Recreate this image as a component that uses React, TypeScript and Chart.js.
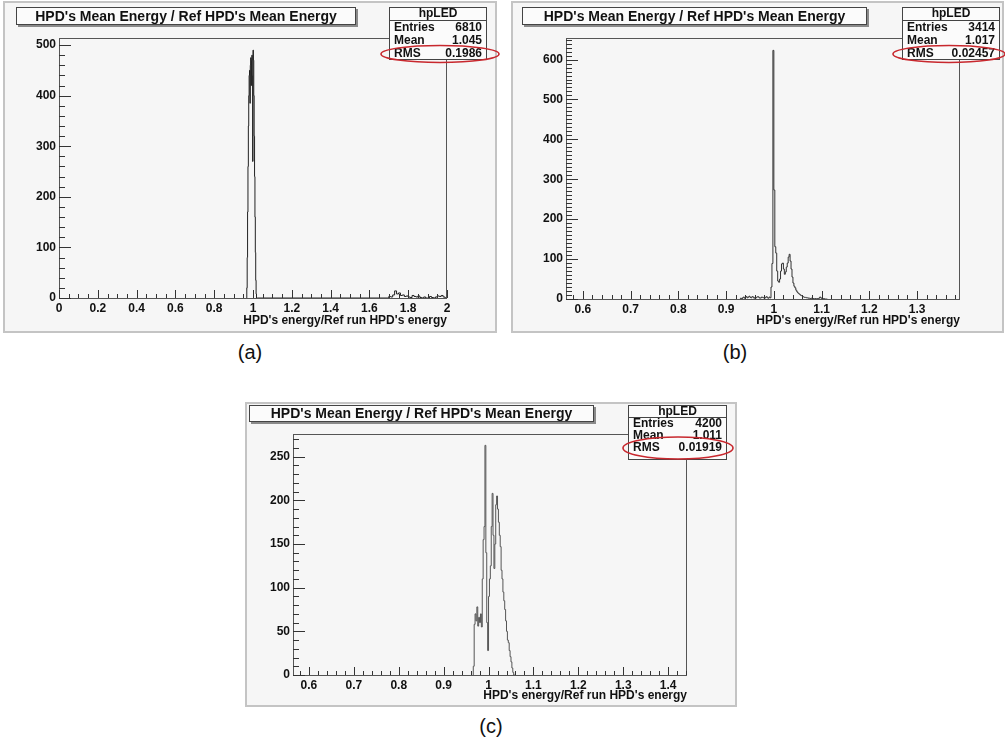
import React, { useEffect, useRef } from "react";
import { Chart, registerables } from "chart.js";
Chart.register(...registerables);

const FONT = "'Liberation Sans', Arial, Helvetica, sans-serif";

// ---------------- DATA ----------------
const chartTitle = "HPD's Mean Energy / Ref HPD's Mean Energy";
const xAxisTitle = "HPD's energy/Ref run HPD's energy";
const statsName = "hpLED";
const statsLabels = ["Entries", "Mean", "RMS"];

// Panel (a)
const binStartA1 = 0.968;
const binWidthA1 = 0.002;
const countsA1 = [0, 20, 80, 170, 260, 340, 400, 440, 450, 385, 460, 475, 420, 470, 480, 440, 270, 490, 470, 400, 320, 240, 160, 90, 35, 8, 0];
const binStartA2 = 1.7;
const binWidthA2 = 0.01;
const countsA2 = [0, 3, 2, 6, 14, 8, 10, 5, 6, 3, 4, 2, 1, 5, 3, 2, 4, 1, 0, 2, 0, 0, 3, 1, 0, 2, 4, 3, 5, 2];
const xTicksA = [0, 0.2, 0.4, 0.6, 0.8, 1, 1.2, 1.4, 1.6, 1.8, 2];
const yTicksA = [0, 100, 200, 300, 400, 500];
const statsValuesA = ["6810", "1.045", "0.1986"];

// Panel (b)
const binStartB = 0.93;
const binWidthB = 0.002;
const countsB = [
  0, 2, 0, 3, 5, 2, 4, 6, 3, 5, 7, 4, 3, 6, 5, 2, 4, 3, 5, 6, 4, 2, 3, 5, 4, 3, 2, 4, 6, 3, 2, 5, 3,
  30, 89, 623, 273, 131, 115, 70, 45, 42, 50, 70, 88, 90, 75, 62, 68, 80, 90, 105, 112, 95, 75, 55, 40,
  32, 28, 22, 18, 15, 13, 11, 9, 8, 6, 5, 4, 4, 3, 3, 2, 2, 1, 2, 1, 1, 0, 1, 0, 1, 0, 2, 5, 3, 1, 0, 1, 0, 0,
];
const xTicksB = [0.6, 0.7, 0.8, 0.9, 1, 1.1, 1.2, 1.3];
const yTicksB = [0, 100, 200, 300, 400, 500, 600];
const statsValuesB = ["3414", "1.017", "0.02457"];

// Panel (c)
const binStartC = 0.966;
const binWidthC = 0.002;
const countsC = [
  0, 10, 58, 70, 62, 78, 56, 66, 60, 70, 55, 110, 155, 170, 263, 140, 60, 28, 90, 110, 125, 170, 208,
  160, 122, 150, 195, 205, 190, 175, 160, 147, 120, 110, 95, 85, 75, 62, 50, 40, 37, 28, 21, 15, 8, 3, 0,
];
const xTicksC = [0.6, 0.7, 0.8, 0.9, 1, 1.1, 1.2, 1.3, 1.4];
const yTicksC = [0, 50, 100, 150, 200, 250];
const statsValuesC = ["4200", "1.011", "0.01919"];

// ---------------- LAYOUT ----------------
type Box = { l: number; t: number; r: number; b: number };
type Segment = { start: number; width: number; counts: number[] };
interface PanelDef {
  pad: Box;
  frame: Box;
  titleBox: Box;
  statsBox: Box;
  statsDivider: number;
  statsRows: number[];
  ellipse: { cx: number; cy: number; rx: number; ry: number };
  axisTitleY: number;
  xMin: number;
  xMax: number;
  yMax: number;
  xTicks: number[];
  yTicks: number[];
  xMinor: number;
  yMinor: number;
  stats: string[];
  segments: Segment[];
  lineColor: string;
}

const panels: PanelDef[] = [
  {
    pad: { l: 3, t: 1, r: 497, b: 333 },
    frame: { l: 59, t: 38, r: 447, b: 298 },
    titleBox: { l: 16, t: 7, r: 356, b: 25 },
    statsBox: { l: 389, t: 7, r: 487, b: 60 },
    statsDivider: 12.5,
    statsRows: [21, 33.7, 46.5],
    ellipse: { cx: 440, cy: 54, rx: 59, ry: 8.5 },
    axisTitleY: 320.5,
    xMin: 0,
    xMax: 2,
    yMax: 514,
    xTicks: xTicksA,
    yTicks: yTicksA,
    xMinor: 0.05,
    yMinor: 20,
    stats: statsValuesA,
    segments: [
      { start: binStartA1, width: binWidthA1, counts: countsA1 },
      { start: binStartA2, width: binWidthA2, counts: countsA2 },
    ],
    lineColor: "#222",
  },
  {
    pad: { l: 511, t: 1, r: 1004, b: 333 },
    frame: { l: 566, t: 38, r: 960, b: 299 },
    titleBox: { l: 522, t: 7, r: 867, b: 25 },
    statsBox: { l: 902, t: 7, r: 1000, b: 60 },
    statsDivider: 12.5,
    statsRows: [21, 33.7, 46.5],
    ellipse: { cx: 949, cy: 54, rx: 56, ry: 8.5 },
    axisTitleY: 320.5,
    xMin: 0.5645,
    xMax: 1.39,
    yMax: 654,
    xTicks: xTicksB,
    yTicks: yTicksB,
    xMinor: 0.02,
    yMinor: 10,
    stats: statsValuesB,
    segments: [{ start: binStartB, width: binWidthB, counts: countsB }],
    lineColor: "#333",
  },
  {
    pad: { l: 245, t: 402, r: 737, b: 707 },
    frame: { l: 293, t: 434, r: 687, b: 675 },
    titleBox: { l: 249, t: 405, r: 594, b: 422 },
    statsBox: { l: 628, t: 405, r: 727, b: 460 },
    statsDivider: 11.7,
    statsRows: [18.5, 30.7, 42.7],
    ellipse: { cx: 678, cy: 448, rx: 55, ry: 11 },
    axisTitleY: 696,
    xMin: 0.5645,
    xMax: 1.442,
    yMax: 276,
    xTicks: xTicksC,
    yTicks: yTicksC,
    xMinor: 0.02,
    yMinor: 10,
    stats: statsValuesC,
    segments: [{ start: binStartC, width: binWidthC, counts: countsC }],
    lineColor: "#555",
  },
];

const panelLabels = [
  { text: "(a)", x: 250, y: 352 },
  { text: "(b)", x: 735, y: 352 },
  { text: "(c)", x: 491, y: 726 },
];

const M = 6; // canvas margin around pad
const Y_W = 45;

function histPoints(segments: Segment[]) {
  const pts: { x: number; y: number }[] = [];
  segments.forEach((s) => {
    s.counts.forEach((c, i) => pts.push({ x: s.start + i * s.width, y: c }));
    pts.push({ x: s.start + s.counts.length * s.width, y: 0 });
  });
  return pts;
}

const fmt = (v: number) => String(Math.round(v * 10) / 10);

function Panel({ def }: { def: PanelDef }) {
  const ref = useRef<HTMLCanvasElement>(null);
  const ox = def.pad.l - M;
  const oy = def.pad.t - M;
  const W = def.pad.r - def.pad.l + 2 * M;
  const H = def.pad.b - def.pad.t + 2 * M;

  useEffect(() => {
    const tickFont = { family: FONT, size: 12, weight: "bold" as const };
    const titleLH = 12 * 1.2;
    const X_H = def.axisTitleY - def.frame.b + titleLH / 2;
    const loc = (b: Box) => ({ l: b.l - ox, t: b.t - oy, r: b.r - ox, b: b.b - oy });

    const rootPlugin = {
      id: "rootStyle",
      beforeDraw(chart: any) {
        const ctx = chart.ctx as CanvasRenderingContext2D;
        const p = loc(def.pad);
        ctx.save();
        ctx.fillStyle = "#f6f6f6";
        ctx.fillRect(p.l, p.t, p.r - p.l, p.b - p.t);
        ctx.strokeStyle = "#c4c4c4";
        ctx.lineWidth = 2;
        ctx.strokeRect(p.l + 1, p.t + 1, p.r - p.l - 2, p.b - p.t - 2);
        ctx.restore();
      },
      afterDatasetsDraw(chart: any) {
        const ctx = chart.ctx as CanvasRenderingContext2D;
        const a = chart.chartArea;
        const xs = chart.scales.x;
        const ys = chart.scales.y;
        ctx.save();
        ctx.strokeStyle = "#555";
        ctx.lineWidth = 1;
        ctx.strokeRect(a.left + 0.5, a.top + 0.5, a.right - a.left - 1, a.bottom - a.top);
        ctx.strokeStyle = "#333";
        ctx.beginPath();
        const isMajor = (v: number, arr: number[], eps: number) => arr.some((m) => Math.abs(m - v) < eps);
        for (let v = Math.ceil(def.xMin / def.xMinor) * def.xMinor; v <= def.xMax + 1e-9; v += def.xMinor) {
          if (isMajor(v, def.xTicks, def.xMinor / 10)) continue;
          const px = Math.round(xs.getPixelForValue(v)) + 0.5;
          ctx.moveTo(px, a.bottom);
          ctx.lineTo(px, a.bottom - 4);
        }
        def.xTicks.forEach((v) => {
          const px = Math.round(xs.getPixelForValue(v)) + 0.5;
          ctx.moveTo(px, a.bottom);
          ctx.lineTo(px, a.bottom - 8);
        });
        for (let v = def.yMinor; v <= def.yMax + 1e-9; v += def.yMinor) {
          if (isMajor(v, def.yTicks, def.yMinor / 10)) continue;
          const py = Math.round(ys.getPixelForValue(v)) + 0.5;
          ctx.moveTo(a.left, py);
          ctx.lineTo(a.left + 6, py);
        }
        def.yTicks.forEach((v) => {
          const py = Math.round(ys.getPixelForValue(v)) + 0.5;
          ctx.moveTo(a.left, py);
          ctx.lineTo(a.left + 12, py);
        });
        ctx.stroke();
        ctx.restore();
      },
      afterDraw(chart: any) {
        const ctx = chart.ctx as CanvasRenderingContext2D;
        ctx.save();
        const tb = loc(def.titleBox);
        ctx.fillStyle = "#8a8a8a";
        ctx.fillRect(tb.l + 2, tb.t + 2, tb.r - tb.l, tb.b - tb.t);
        ctx.fillStyle = "#fbfbfb";
        ctx.fillRect(tb.l, tb.t, tb.r - tb.l, tb.b - tb.t);
        ctx.strokeStyle = "#444";
        ctx.lineWidth = 1;
        ctx.strokeRect(tb.l + 0.5, tb.t + 0.5, tb.r - tb.l - 1, tb.b - tb.t - 1);
        ctx.fillStyle = "#111";
        ctx.font = `bold 14px ${FONT}`;
        ctx.textAlign = "center";
        ctx.textBaseline = "middle";
        ctx.fillText(chartTitle, (tb.l + tb.r) / 2, (tb.t + tb.b) / 2 + 1);
        const sb = loc(def.statsBox);
        ctx.fillStyle = "#fbfbfb";
        ctx.fillRect(sb.l, sb.t, sb.r - sb.l, sb.b - sb.t);
        ctx.strokeStyle = "#444";
        ctx.strokeRect(sb.l + 0.5, sb.t + 0.5, sb.r - sb.l - 1, sb.b - sb.t - 1);
        ctx.beginPath();
        ctx.moveTo(sb.l, Math.round(sb.t + def.statsDivider) + 0.5);
        ctx.lineTo(sb.r, Math.round(sb.t + def.statsDivider) + 0.5);
        ctx.stroke();
        ctx.fillStyle = "#111";
        ctx.font = `bold 12px ${FONT}`;
        ctx.textAlign = "center";
        ctx.fillText(statsName, (sb.l + sb.r) / 2, sb.t + def.statsDivider / 2 + 0.5);
        statsLabels.forEach((lab, i) => {
          const y = sb.t + def.statsRows[i];
          ctx.textAlign = "left";
          ctx.fillText(lab, sb.l + 5, y);
          ctx.textAlign = "right";
          ctx.fillText(def.stats[i], sb.r - 5, y);
        });
        ctx.strokeStyle = "#c8282e";
        ctx.lineWidth = 1.6;
        ctx.beginPath();
        ctx.ellipse(def.ellipse.cx - ox, def.ellipse.cy - oy, def.ellipse.rx, def.ellipse.ry, 0, 0, Math.PI * 2);
        ctx.stroke();
        ctx.restore();
      },
    };

    const chart = new Chart(ref.current!, {
      type: "line",
      data: {
        datasets: [
          {
            data: histPoints(def.segments),
            stepped: "after",
            borderColor: def.lineColor,
            borderWidth: 1,
            pointRadius: 0,
            fill: false,
          } as any,
        ],
      },
      options: {
        animation: false,
        responsive: false,
        maintainAspectRatio: false,
        events: [],
        layout: {
          padding: {
            left: def.frame.l - ox - Y_W,
            top: def.frame.t - oy,
            right: ox + W - def.frame.r,
            bottom: oy + H - def.frame.b - X_H,
          },
        },
        plugins: { legend: { display: false }, tooltip: { enabled: false }, title: { display: false } },
        scales: {
          x: {
            type: "linear",
            min: def.xMin,
            max: def.xMax,
            afterBuildTicks: (s: any) => {
              s.ticks = def.xTicks.map((v) => ({ value: v }));
            },
            afterFit: (s: any) => {
              s.height = X_H;
            },
            grid: { display: false, drawTicks: false },
            border: { display: false },
            ticks: {
              padding: 3,
              autoSkip: false,
              maxRotation: 0,
              color: "#111",
              font: tickFont,
              callback: (v: any) => fmt(Number(v)),
            },
            title: {
              display: true,
              text: xAxisTitle,
              align: "end",
              color: "#111",
              font: tickFont,
              padding: 0,
            },
          },
          y: {
            type: "linear",
            min: 0,
            max: def.yMax,
            afterBuildTicks: (s: any) => {
              s.ticks = def.yTicks.map((v) => ({ value: v }));
            },
            afterFit: (s: any) => {
              s.width = Y_W;
            },
            grid: { display: false, drawTicks: false },
            border: { display: false },
            ticks: {
              padding: 3,
              autoSkip: false,
              color: "#111",
              font: tickFont,
              callback: (v: any) => String(v),
            },
          },
        },
      } as any,
      plugins: [rootPlugin],
    });
    return () => chart.destroy();
  }, []);

  return (
    <canvas
      ref={ref}
      width={W}
      height={H}
      style={{ position: "absolute", left: ox, top: oy, width: W, height: H }}
    />
  );
}

export default function App() {
  return (
    <div
      style={{
        position: "absolute",
        left: 0,
        top: 0,
        width: 1005,
        height: 746,
        background: "#ffffff",
        overflow: "hidden",
      }}
    >
      {panels.map((p, i) => (
        <Panel key={i} def={p} />
      ))}
      {panelLabels.map((l) => (
        <div
          key={l.text}
          style={{
            position: "absolute",
            left: l.x - 30,
            top: l.y - 12,
            width: 60,
            height: 24,
            lineHeight: "24px",
            textAlign: "center",
            fontFamily: FONT,
            fontSize: 20,
            color: "#111",
          }}
        >
          {l.text}
        </div>
      ))}
    </div>
  );
}
